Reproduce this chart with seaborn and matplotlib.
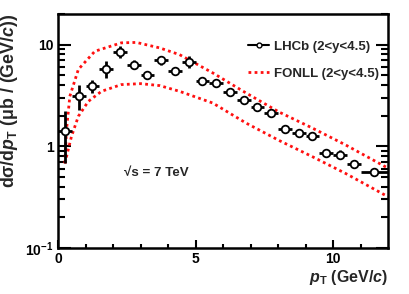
import numpy as np
import pandas as pd
import matplotlib
matplotlib.use("Agg")
import matplotlib.pyplot as plt
import seaborn as sns
from matplotlib.lines import Line2D
from matplotlib.ticker import FixedLocator, NullFormatter

# LHCb measurement, d(sigma)/d(pT) in microbarn per GeV/c
pt_centers = [0.25, 0.75, 1.25, 1.75, 2.25, 2.75, 3.25, 3.75, 4.25, 4.75, 5.25, 5.75,
              6.25, 6.75, 7.25, 7.75, 8.25, 8.75, 9.25, 9.75, 10.25, 10.75, 11.5]
pt_halfwidth = [0.25] * 22 + [0.5]
xsec = [1.40, 3.15, 3.88, 5.75, 8.53, 6.35, 5.06, 7.0, 5.54, 6.7, 4.42, 4.2,
        3.45, 2.87, 2.44, 2.12, 1.47, 1.36, 1.25, 0.85, 0.83, 0.67, 0.555]
err_lo = [0.72, 0.86, 0.54, 1.05, 1.1, 0.58, 0.44, 0.70, 0.48, 0.85, 0.38, 0.36,
          0.30, 0.25, 0.21, 0.18, 0.13, 0.12, 0.11, 0.07, 0.07, 0.06, 0.04]
err_hi = [0.80, 0.89, 0.64, 1.09, 1.1, 0.64, 0.48, 0.78, 0.53, 0.98, 0.42, 0.40,
          0.33, 0.28, 0.23, 0.20, 0.14, 0.13, 0.13, 0.08, 0.08, 0.07, 0.045]

# FONLL band edges
fonll_up_pt = [0.25, 0.31, 0.43, 0.74, 1.34, 2.3, 2.85, 3.7, 4.42, 5.63, 6.84, 8.04,
               9.25, 10.46, 11.9, 12.0]
fonll_up = [0.68, 1.46, 3.1, 5.7, 8.6, 10.4, 10.5, 9.27, 7.96, 5.26, 3.34, 2.17,
            1.51, 1.03, 0.63, 0.61]
fonll_lo_pt = [0.25, 0.49, 0.74, 1.1, 1.58, 2.3, 3.0, 3.7, 4.42, 5.63, 6.84, 8.04,
               9.25, 10.46, 11.9, 12.0]
fonll_lo = [0.68, 1.25, 1.97, 2.76, 3.47, 4.04, 4.13, 3.95, 3.47, 2.66, 1.69, 1.14,
            0.79, 0.54, 0.33, 0.32]

sns.set_theme(style="ticks")
plt.rcParams["font.family"] = ["Liberation Sans", "DejaVu Sans"]
plt.rcParams["font.weight"] = "bold"
plt.rcParams["mathtext.fontset"] = "custom"
plt.rcParams["mathtext.rm"] = "Liberation Sans:bold"
plt.rcParams["mathtext.it"] = "Liberation Sans:bold:italic"
plt.rcParams["mathtext.bf"] = "Liberation Sans:bold"

fig = plt.figure(figsize=(4.09, 2.94), dpi=100)
ax = fig.add_axes([0.1418, 0.1565, 0.807, 0.796])

fonll = pd.concat([
    pd.DataFrame({"pt": fonll_up_pt, "xsec": fonll_up, "edge": "upper"}),
    pd.DataFrame({"pt": fonll_lo_pt, "xsec": fonll_lo, "edge": "lower"}),
])
for edge, sub in fonll.groupby("edge"):
    sns.lineplot(data=sub, x="pt", y="xsec", ax=ax, color="#ff1010",
                 linewidth=2.0, linestyle=(0, (1, 1.2)), legend=False)

ax.errorbar(pt_centers, xsec, xerr=pt_halfwidth, yerr=[err_lo, err_hi],
            fmt="o", ms=5.5, mfc="white", mec="black", mew=1.3, color="black",
            elinewidth=2.0, capsize=0, zorder=5)

ax.set_yscale("log")
ax.set_xlim(0, 12)
ax.set_ylim(0.1, 20)

ax.xaxis.set_major_locator(FixedLocator([0, 5, 10]))
ax.xaxis.set_minor_locator(FixedLocator([1, 2, 3, 4, 6, 7, 8, 9, 11]))
ax.set_xticklabels(["0", "5", "10"])
ax.yaxis.set_major_locator(FixedLocator([0.1, 1, 10]))
ax.set_yticklabels([r"$10^{-1}$", "1", "10"])
ax.yaxis.set_minor_formatter(NullFormatter())

ax.tick_params(which="both", direction="in", right=True, top=False,
               width=1.5, labelsize=10, colors="black")
ax.tick_params(axis="y", which="major", length=9, pad=3)
ax.tick_params(axis="y", which="minor", length=5)
ax.tick_params(axis="x", which="major", length=5.5, pad=3)
ax.tick_params(axis="x", which="minor", length=2.8)
for s in ax.spines.values():
    s.set_linewidth(1.8)
    s.set_color("black")

ax.set_xlabel(r"$p_{\mathrm{T}}$ (GeV/$c$)", loc="right", fontsize=11.5,
              fontweight="bold", labelpad=1)
ax.set_ylabel(r"dσ/d$p_{\mathrm{T}}$ (μb / (GeV/$c$))", loc="top", fontsize=12.8,
              fontweight="bold", labelpad=4)

ax.text(0.2, 0.32, "√s = 7 TeV", transform=ax.transAxes, fontsize=9.6,
        fontweight="bold", va="center")

handles = [
    Line2D([], [], color="black", lw=1.5, marker="o", ms=3.5, mfc="white", mec="black"),
    Line2D([], [], color="#ff1010", lw=2.0, linestyle=(0, (1, 1.2))),
]
ax.legend(handles, ["LHCb (2<y<4.5)", "FONLL (2<y<4.5)"], loc="upper right",
          bbox_to_anchor=(0.972, 0.885), frameon=False, fontsize=9.5,
          borderaxespad=0, borderpad=0,
          handlelength=1.6, handletextpad=0.35, labelspacing=1.1)

fig.savefig("out.png", dpi=100)
plt.close(fig)
